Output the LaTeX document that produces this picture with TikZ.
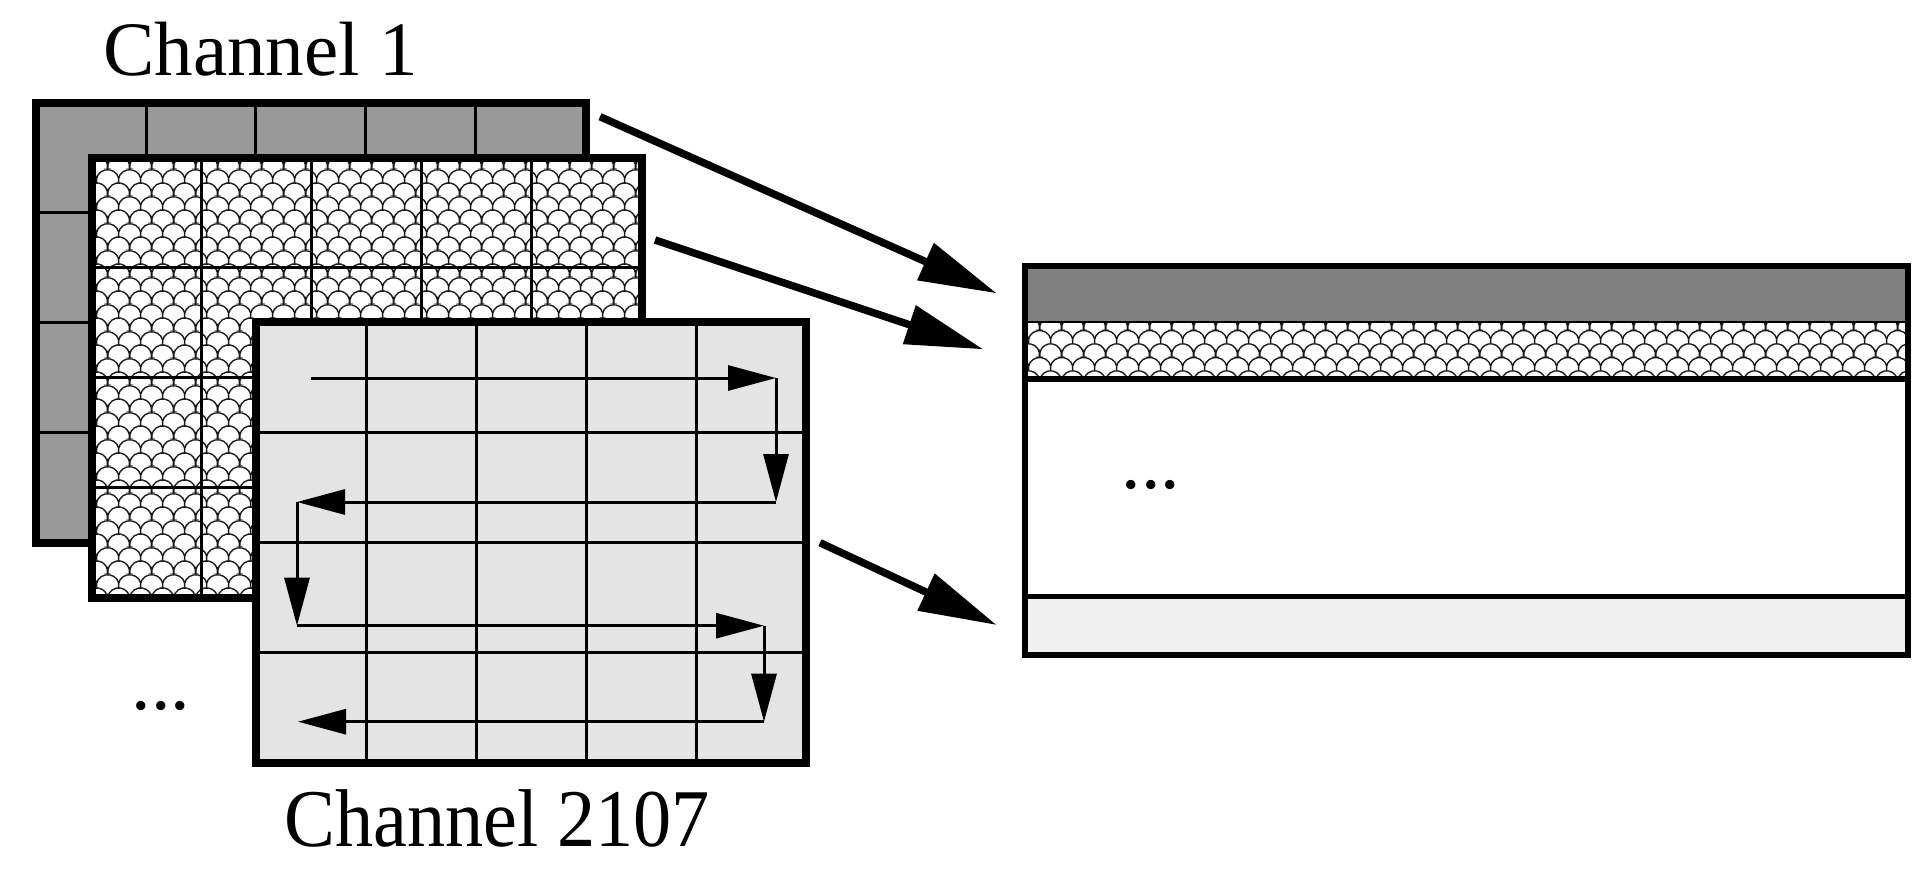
\documentclass[tikz,border=0pt]{standalone}
\usepackage{fontspec}
\setmainfont{Liberation Serif}
\usetikzlibrary{arrows.meta,patterns,calc}

\definecolor{cgray}{HTML}{999999}
\definecolor{cdark}{HTML}{808080}
\definecolor{clight}{HTML}{E4E4E4}
\definecolor{cpale}{HTML}{F0F0F0}

\pgfdeclarepatternformonly{fishscales}{\pgfqpoint{0pt}{0pt}}{\pgfqpoint{21.66pt}{27.08pt}}{\pgfqpoint{21.66pt}{27.08pt}}{%
  \pgfsetlinewidth{1.4pt}%
  \pgfpathmoveto{\pgfqpoint{-21.66pt}{0pt}}%
  \pgfpatharc{192.7}{-12.7}{11.1pt}\pgfpatharc{192.7}{-12.7}{11.1pt}\pgfpatharc{192.7}{-12.7}{11.1pt}%
  \pgfpathmoveto{\pgfqpoint{-21.66pt}{27.08pt}}%
  \pgfpatharc{192.7}{-12.7}{11.1pt}\pgfpatharc{192.7}{-12.7}{11.1pt}\pgfpatharc{192.7}{-12.7}{11.1pt}%
  \pgfpathmoveto{\pgfqpoint{-10.83pt}{13.54pt}}%
  \pgfpatharc{192.7}{-12.7}{11.1pt}\pgfpatharc{192.7}{-12.7}{11.1pt}%
  \pgfpathmoveto{\pgfqpoint{-10.83pt}{-13.54pt}}%
  \pgfpatharc{192.7}{-12.7}{11.1pt}\pgfpatharc{192.7}{-12.7}{11.1pt}%
  \pgfusepath{stroke}%
}

\newcommand\panelgrid[1]{%
  \foreach \i in {1,...,4}{\draw[gridline] ($(#1.north west)!\i/5!(#1.north east)$) -- ($(#1.south west)!\i/5!(#1.south east)$);}%
  \foreach \j in {1,2,3}{\draw[gridline] ($(#1.north west)!\j/4!(#1.south west)$) -- ($(#1.north east)!\j/4!(#1.south east)$);}%
}

\begin{document}
\begin{tikzpicture}[x=1pt,y=-1pt,
  panel/.style={draw=black, line width=8pt, minimum width=550pt, minimum height=440.5pt, anchor=north west, inner sep=0pt, outer sep=0pt},
  gridline/.style={line width=3pt},
  scanarrow/.style={line width=3pt, -{Triangle[length=48pt,width=25pt]}},
  bigarrow/.style={line width=7.5pt, -{Triangle[length=78pt,width=39pt]}},
  lbl/.style={inner sep=0pt, anchor=base west, font=\fontsize{77}{90}\selectfont},
  strip/.style={anchor=north west, minimum width=882.5pt, inner sep=0pt, outer sep=0pt},
  scales/.style={preaction={fill=white}, pattern=fishscales, pattern color=black!90},
]
\useasboundingbox (0,0) rectangle (1930,871);
\fill[white] (0,0) rectangle (1930,871);

% labels
\node[lbl] (t1) at (103,75) {Channel 1};
\node[lbl, font=\fontsize{82}{95}\selectfont] (t2) at (284,846.7) {\scalebox{0.93}[1]{Channel 2107}};
\node[lbl, font=\fontsize{78}{90}\selectfont] (d1) at (131.3,709) {...};

% panels
\node[panel, fill=cgray] (ch1) at (36,102.5) {};
\panelgrid{ch1}
\node[panel, scales] (ch2) at (91.6,157.5) {};
\panelgrid{ch2}
\node[panel, fill=clight] (ch3) at (256.4,322.3) {};
\panelgrid{ch3}

% scan order arrows
\coordinate (s0) at (311,378);
\coordinate (s1) at (776,378);
\coordinate (s2) at (776,502);
\coordinate (s3) at (297,502);
\coordinate (s4) at (297,625.7);
\coordinate (s5) at (764,625.7);
\coordinate (s6) at (764,721.7);
\coordinate (s7) at (298,721.7);
\draw[scanarrow] (s0) -- (s1);
\draw[scanarrow] (s1) -- (s2);
\draw[scanarrow] (s2) -- (s3);
\draw[scanarrow] (s3) -- (s4);
\draw[scanarrow] (s4) -- (s5);
\draw[scanarrow] (s5) -- (s6);
\draw[scanarrow] (s6) -- (s7);

% output bar
\node[strip, fill=cdark, minimum height=55.7pt] (barA) at (1025,266.3) {};
\node[strip, scales, minimum height=57pt] (barB) at (1025,322) {};
\node[strip, fill=white, minimum height=217.7pt] (barC) at (1025,379) {};
\node[strip, fill=cpale, minimum height=58.1pt] (barD) at (1025,596.7) {};
\draw[line width=2pt] (barB.north west) -- (barB.north east);
\draw[line width=5.5pt] (barC.north west) -- (barC.north east);
\draw[line width=5.5pt] (barD.north west) -- (barD.north east);
\node[strip, draw, line width=6pt, minimum height=388.5pt] (bar) at (1025,266.3) {};
\node[lbl, font=\fontsize{78}{90}\selectfont] (d2) at (1121.3,488) {...};

% mapping arrows
\coordinate (a1s) at (600,116.7);
\coordinate (a1e) at (996.7,293.3);
\coordinate (a2s) at (655,240);
\coordinate (a2e) at (983.3,349.3);
\coordinate (a3s) at (820,542.7);
\coordinate (a3e) at (996.7,625);
\draw[bigarrow] (a1s) -- (a1e);
\draw[bigarrow] (a2s) -- (a2e);
\draw[bigarrow] (a3s) -- (a3e);
\end{tikzpicture}
\end{document}
